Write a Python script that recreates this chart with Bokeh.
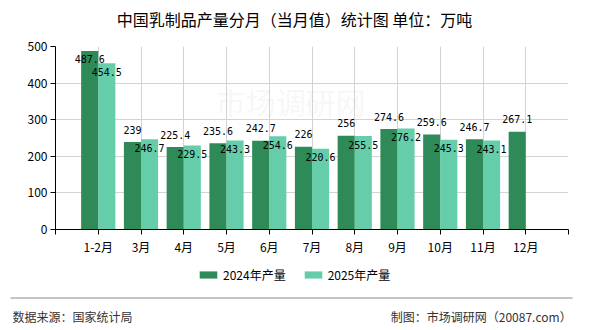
from bokeh.plotting import figure
from bokeh.layouts import column
from bokeh.models import (Range1d, FixedTicker, ColumnDataSource, Legend, LegendItem, Label)
from bokeh.core.properties import value
from bokeh.embed import file_html
from bokeh.resources import INLINE

# Monthly dairy output, 10k tonnes
months = ["1-2月", "3月", "4月", "5月", "6月", "7月", "8月", "9月", "10月", "11月", "12月"]
y2024 = [487.6, 239, 225.4, 235.6, 242.7, 226, 256, 274.6, 259.6, 246.7, 267.1]
y2025 = [454.5, 246.7, 229.5, 243.3, 254.6, 220.6, 255.5, 276.2, 245.3, 243.1]
series_names = ["2024年产量", "2025年产量"]
y_ticks = [0, 100, 200, 300, 400, 500]

title_text = "中国乳制品产量分月（当月值）统计图 单位：万吨"
source_text = "数据来源：国家统计局"
credit_text = "制图：市场调研网（20087.com）"

DARK = "#2E8B57"
LIGHT = "#66CDAA"
CJK = "Noto Sans CJK SC"
MONO = "DejaVu Sans Mono"
W = 590


def blank(h):
    """A plain strip whose frame covers the whole canvas, y measured downward in px."""
    f = figure(width=W, height=h, output_backend="svg", toolbar_location=None,
               x_range=Range1d(0, W), y_range=Range1d(h, 0),
               min_border=0, min_border_left=0, min_border_right=0,
               min_border_top=0, min_border_bottom=0, frame_align=False)
    f.axis.visible = False
    f.grid.visible = False
    f.outline_line_color = None
    f.title = None
    return f


# ---- title strip
top = blank(36)
top.text(x=[294], y=[18], text=[title_text], text_font=value(CJK), text_font_size="16px",
         text_color="black", text_align="center", text_baseline="middle")

# ---- main chart
pos = list(range(1, len(months) + 1))
bw = 0.4

p = figure(width=W, height=224, output_backend="svg", toolbar_location=None,
           x_range=Range1d(0, len(months) + 1), y_range=Range1d(0, 500),
           min_border_left=55, min_border_right=22, min_border_top=10,
           min_border_bottom=31, frame_align=False)
p.title = None
p.outline_line_color = None

p.xaxis.ticker = FixedTicker(ticks=list(range(0, len(months) + 2)))
p.xaxis.major_label_overrides = {i + 1: m for i, m in enumerate(months)} | {0: "", len(months) + 1: ""}
p.yaxis.ticker = FixedTicker(ticks=y_ticks)
for ax in (p.xaxis[0], p.yaxis[0]):
    ax.axis_line_color = "black"
    ax.major_tick_line_color = "black"
    ax.major_tick_in = 0
    ax.major_tick_out = 5
    ax.minor_tick_line_color = None
    ax.major_label_text_font = CJK
    ax.major_label_text_font_size = "12px"
    ax.major_label_text_color = "black"
p.xaxis.major_label_standoff = 3
p.yaxis.major_label_standoff = 3

p.xgrid.ticker = FixedTicker(ticks=list(range(1, len(months) + 2)))
p.ygrid.ticker = FixedTicker(ticks=y_ticks[1:])
p.xgrid.grid_line_color = "#d3d3d3"
p.ygrid.grid_line_color = "#d3d3d3"

# faint watermark
p.add_layout(Label(x=5.5, y=352, text="市场调研网", text_font=CJK, text_font_size="30px",
                   text_color="#cccccc", text_alpha=0.18, text_align="center",
                   text_baseline="middle"))

src24 = ColumnDataSource(dict(x=[v - bw / 2 for v in pos], top=y2024,
                              ly=[min(v + 34, 466) for v in y2024],
                              t=[f"{v:g}" for v in y2024]))
src25 = ColumnDataSource(dict(x=[v + bw / 2 for v in pos[:len(y2025)]], top=y2025,
                              ly=[v - 23.5 for v in y2025],
                              t=[f"{v:g}" for v in y2025]))

p.vbar(x="x", top="top", width=bw, source=src24, fill_color=DARK, line_color=None)
p.vbar(x="x", top="top", width=bw, source=src25, fill_color=LIGHT, line_color=None)

for s in (src24, src25):
    p.text(x="x", y="ly", text="t", source=s, text_font=value(MONO), text_font_size="10px",
           text_color="black", text_align="center", text_baseline="middle")

# ---- legend, rule and footer strip
bot = blank(70)
k24 = bot.vbar(x=[-100], top=[0], width=1, fill_color=DARK, line_color=None)
k25 = bot.vbar(x=[-100], top=[0], width=1, fill_color=LIGHT, line_color=None)
legend = Legend(items=[LegendItem(label=series_names[0], renderers=[k24]),
                       LegendItem(label=series_names[1], renderers=[k25])],
                orientation="horizontal", location=(197, 47),
                label_text_font=CJK, label_text_font_size="12px", label_text_color="black",
                glyph_width=22, glyph_height=9, label_standoff=4, spacing=16,
                label_height=12, padding=0, margin=0,
                border_line_color=None, background_fill_alpha=0)
bot.add_layout(legend, "center")

bot.segment(x0=[10], y0=[37.5], x1=[572], y1=[37.5], line_color="#888888", line_width=1)
bot.text(x=[12], y=[56], text=[source_text], text_font=value(CJK), text_font_size="12px",
         text_color="#333333", text_align="left", text_baseline="middle")
bot.text(x=[571], y=[56], text=[credit_text], text_font=value(CJK), text_font_size="12px",
         text_color="#333333", text_align="right", text_baseline="middle")

layout = column(top, p, bot, spacing=0)
open("out.html", "w").write(file_html(layout, INLINE))
